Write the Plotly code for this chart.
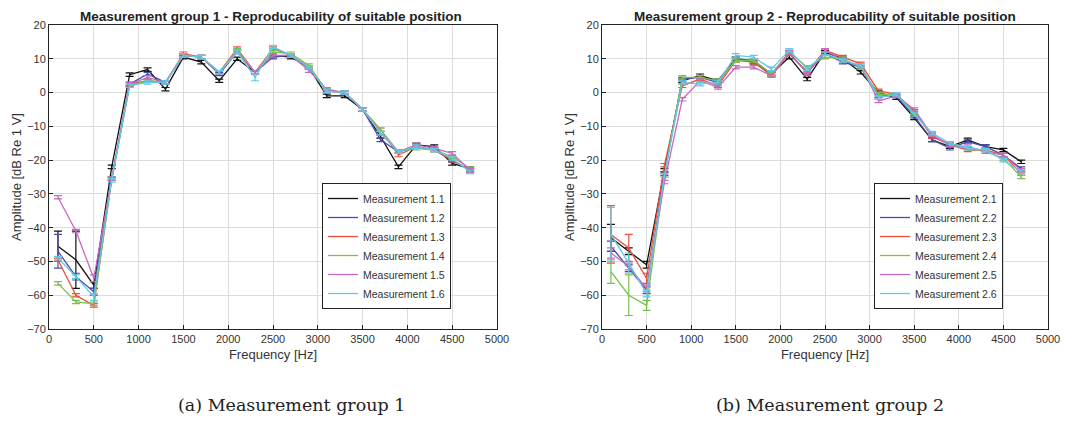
import plotly.graph_objects as go

freq = [100, 300, 500, 700, 900, 1100, 1300, 1500, 1700, 1900, 2100, 2300,
        2500, 2700, 2900, 3100, 3300, 3500, 3700, 3900, 4100, 4300, 4500, 4700]

names1 = ["Measurement 1.1", "Measurement 1.2", "Measurement 1.3",
          "Measurement 1.4", "Measurement 1.5", "Measurement 1.6"]
names2 = ["Measurement 2.1", "Measurement 2.2", "Measurement 2.3",
          "Measurement 2.4", "Measurement 2.5", "Measurement 2.6"]
colors = ["#111111", "#4a4aa8", "#e8503a", "#78c050", "#c868c0", "#60c8e8"]

# Group 1 values (dB)
g1_m1 = [-45.5, -49.5, -57.0, -22.0, 5.3, 6.8, 1.0, 10.5, 9.0, 3.5, 10.0, 6.0,
         11.0, 10.5, 7.5, -1.0, -1.0, -5.0, -13.0, -22.0, -15.5, -16.0, -21.0, -22.5]
g1_m2 = [-47.0, -54.5, -59.0, -25.5, 2.5, 5.5, 3.0, 11.0, 10.5, 5.5, 12.0, 6.0,
         10.5, 11.0, 7.5, 0.5, 0.0, -5.0, -14.0, -17.5, -16.0, -17.0, -20.0, -23.0]
g1_m3 = [-49.5, -60.0, -63.0, -25.5, 2.5, 3.5, 3.0, 11.5, 10.5, 6.0, 13.0, 6.0,
         13.0, 11.0, 7.5, 0.5, 0.0, -5.0, -11.0, -18.5, -16.0, -17.0, -20.0, -23.0]
g1_m4 = [-56.5, -62.0, -62.5, -25.5, 2.0, 3.5, 3.0, 11.0, 10.5, 6.0, 12.5, 6.0,
         12.0, 11.5, 8.0, 0.5, 0.0, -5.0, -11.0, -17.5, -16.5, -17.0, -19.0, -22.5]
g1_m5 = [-31.0, -41.0, -55.0, -25.5, 2.5, 4.5, 3.0, 11.0, 10.5, 6.0, 12.0, 6.0,
         11.0, 11.0, 6.5, 1.0, 0.0, -5.0, -12.0, -17.5, -15.5, -16.5, -18.0, -23.0]
g1_m6 = [-49.0, -54.5, -60.5, -26.0, 2.0, 3.0, 3.0, 11.0, 10.5, 6.0, 12.0, 4.5,
         13.5, 11.0, 7.5, 0.5, 0.0, -5.0, -12.0, -17.5, -16.0, -17.0, -19.5, -23.5]

g1_e1 = [4.5, 8.5, 1.0, 0.5, 0.5, 0.5, 0.5, 0.5, 0.5, 0.5, 0.5, 0.5,
         0.5, 0.5, 0.5, 0.5, 0.5, 0.5, 0.5, 0.5, 0.5, 0.5, 0.5, 0.5]
g1_e2 = [5.0, 1.0, 1.0, 0.5, 0.5, 0.5, 0.5, 0.5, 0.5, 0.5, 0.5, 0.5,
         0.5, 0.5, 0.5, 0.5, 0.5, 0.5, 0.5, 0.5, 0.5, 0.5, 0.5, 0.5]
g1_e3 = [0.5, 0.5, 0.5, 0.5, 0.5, 0.5, 0.5, 0.5, 0.5, 0.5, 0.5, 0.5,
         0.5, 0.5, 0.5, 0.5, 0.5, 0.5, 0.5, 0.5, 0.5, 0.5, 0.5, 0.5]
g1_e4 = [0.5, 0.5, 0.5, 0.5, 0.5, 0.5, 0.5, 0.5, 0.5, 0.5, 0.5, 0.5,
         0.5, 0.5, 0.5, 0.5, 0.5, 0.5, 0.5, 0.5, 0.5, 0.5, 0.5, 0.5]
g1_e5 = [0.5, 0.5, 1.0, 0.5, 0.5, 0.5, 0.5, 0.5, 0.5, 0.5, 0.5, 0.5,
         0.5, 0.5, 0.5, 0.5, 0.5, 0.5, 0.5, 0.5, 0.5, 0.5, 0.5, 0.5]
g1_e6 = [0.5, 0.5, 1.0, 0.5, 0.5, 0.5, 0.5, 0.5, 0.5, 0.5, 0.5, 1.0,
         0.5, 0.5, 0.5, 0.5, 0.5, 0.5, 0.5, 0.5, 0.5, 0.5, 0.5, 0.5]

# Group 2 values (dB)
g2_m1 = [-43.0, -47.0, -51.0, -23.0, 3.5, 5.0, 3.5, 10.0, 9.0, 5.5, 10.5, 4.0,
         12.0, 10.0, 6.0, 0.0, -1.5, -7.5, -14.0, -16.0, -14.0, -16.0, -17.0, -20.5]
g2_m2 = [-45.5, -52.0, -58.5, -24.0, 4.0, 4.5, 3.0, 10.0, 9.5, 5.5, 11.5, 6.0,
         11.5, 9.0, 7.5, -1.0, -1.0, -7.0, -14.0, -16.5, -14.5, -16.0, -18.5, -22.5]
g2_m3 = [-42.0, -46.0, -55.0, -21.5, 2.0, 4.0, 2.0, 9.5, 9.0, 5.0, 11.5, 6.0,
         12.5, 10.5, 8.5, 0.5, -0.5, -5.5, -13.0, -15.5, -17.0, -17.0, -18.5, -24.0]
g2_m4 = [-53.0, -60.0, -63.0, -24.5, 4.5, 4.5, 3.5, 9.5, 9.5, 5.5, 12.0, 7.5,
         10.5, 10.0, 7.5, -0.5, -0.5, -6.0, -12.5, -15.5, -16.5, -17.5, -19.5, -25.0]
g2_m5 = [-47.5, -51.5, -58.0, -26.5, -2.0, 3.5, 1.5, 7.5, 7.5, 5.0, 12.0, 5.5,
         12.5, 9.5, 8.0, -2.5, -1.0, -5.0, -12.5, -15.5, -16.0, -17.5, -18.5, -23.0]
g2_m6 = [-42.0, -50.5, -59.5, -24.5, 3.0, 2.5, 3.0, 11.0, 10.5, 7.0, 12.5, 7.0,
         11.5, 9.5, 8.0, -1.5, -0.5, -6.5, -12.0, -15.0, -16.5, -17.0, -20.0, -23.5]

g2_e1 = [4.0, 1.0, 1.0, 0.5, 0.5, 0.5, 0.5, 0.5, 0.5, 0.5, 0.5, 0.5,
         0.5, 0.5, 0.5, 0.5, 0.5, 0.5, 0.5, 0.5, 0.5, 0.5, 0.5, 0.5]
g2_e2 = [1.5, 1.0, 1.0, 0.5, 0.5, 0.5, 0.5, 0.5, 0.5, 0.5, 0.5, 0.5,
         0.5, 0.5, 0.5, 0.5, 0.5, 0.5, 0.5, 0.5, 0.5, 0.5, 0.5, 0.5]
g2_e3 = [8.5, 4.0, 1.5, 0.5, 0.5, 0.5, 0.5, 0.5, 0.5, 0.5, 0.5, 0.5,
         0.5, 0.5, 0.5, 0.5, 0.5, 0.5, 0.5, 0.5, 0.5, 0.5, 0.5, 0.5]
g2_e4 = [3.5, 6.0, 1.5, 0.5, 0.5, 0.5, 0.5, 0.5, 0.5, 0.5, 0.5, 0.5,
         0.5, 0.5, 0.5, 0.5, 0.5, 0.5, 0.5, 0.5, 0.5, 0.5, 0.5, 0.5]
g2_e5 = [1.5, 1.0, 1.0, 0.5, 0.5, 0.5, 0.5, 0.5, 0.5, 0.5, 0.5, 0.5,
         0.5, 0.5, 0.5, 0.5, 0.5, 0.5, 0.5, 0.5, 0.5, 0.5, 0.5, 0.5]
g2_e6 = [8.0, 3.0, 1.0, 0.5, 0.5, 0.5, 0.5, 0.5, 0.5, 0.5, 0.5, 0.5,
         0.5, 0.5, 0.5, 0.5, 0.5, 0.5, 0.5, 0.5, 0.5, 0.5, 0.5, 0.5]

group1 = [g1_m1, g1_m2, g1_m3, g1_m4, g1_m5, g1_m6]
group1_err = [g1_e1, g1_e2, g1_e3, g1_e4, g1_e5, g1_e6]
group2 = [g2_m1, g2_m2, g2_m3, g2_m4, g2_m5, g2_m6]
group2_err = [g2_e1, g2_e2, g2_e3, g2_e4, g2_e5, g2_e6]

titles = ["Measurement group 1 - Reproducability of suitable position",
          "Measurement group 2 - Reproducability of suitable position"]
captions = ["(a) Measurement group 1", "(b) Measurement group 2"]

W, H = 1091, 432
PAGE_OFF = 8  # default page body margin of the written html


def xp(px):
    return (px - PAGE_OFF) / W


def yp(py):
    return 1 - (py - PAGE_OFF) / H


fig = go.Figure()

for ys, es, names, xa, ya, lg in [(group1, group1_err, names1, "x", "y", "legend"),
                                   (group2, group2_err, names2, "x2", "y2", "legend2")]:
    for y, e, n, c in zip(ys, es, names, colors):
        fig.add_trace(go.Scatter(
            x=freq, y=y, name=n, mode="lines",
            line=dict(color=c, width=1.3),
            error_y=dict(type="data", array=e, visible=True, color=c,
                         thickness=1.2, width=4),
            xaxis=xa, yaxis=ya, legend=lg))

axis_common = dict(showline=True, linecolor="#222", linewidth=1, mirror=True,
                   showgrid=True, gridcolor="#dcdcdc", gridwidth=1,
                   ticks="inside", ticklen=4, tickcolor="#222",
                   tickfont=dict(family="Liberation Sans, Arial", size=11, color="#333"),
                   zeroline=False, automargin=False)

xcommon = dict(axis_common, range=[0, 5000], dtick=500, tick0=0)
ycommon = dict(axis_common, range=[-70, 20], dtick=10, tick0=0)

leg_common = dict(yanchor="middle", xanchor="left", bgcolor="white",
                  bordercolor="#222", borderwidth=1,
                  font=dict(family="Liberation Sans, Arial", size=10.5, color="#333"),
                  tracegroupgap=0, itemwidth=30)

xt = dict(text="Frequency [Hz]", font=dict(size=13, color="#333"), standoff=5)
yt = dict(text="Amplitude [dB Re 1 V]", font=dict(size=13, color="#333"), standoff=2)

fig.update_layout(
    width=W, height=H,
    margin=dict(l=0, r=0, t=0, b=0, autoexpand=False),
    paper_bgcolor="white", plot_bgcolor="white",
    font=dict(family="Liberation Sans, Arial", color="#222"),
    xaxis=dict(xcommon, domain=[xp(49), xp(497)], anchor="y", title=xt),
    yaxis=dict(ycommon, domain=[yp(329), yp(25)], anchor="x", title=yt),
    xaxis2=dict(xcommon, domain=[xp(602), xp(1048)], anchor="y2", title=xt),
    yaxis2=dict(ycommon, domain=[yp(329), yp(25)], anchor="x2", title=yt),
    legend=dict(leg_common, x=xp(322), y=yp(246)),
    legend2=dict(leg_common, x=xp(874), y=yp(246)),
    showlegend=True,
)

annotations = []
for t, cx in zip(titles, [271, 825]):
    annotations.append(dict(text="<b>" + t + "</b>", x=xp(cx), y=yp(8),
                            xref="paper", yref="paper", showarrow=False,
                            xanchor="center", yanchor="top", borderpad=0,
                            font=dict(size=13.5, color="#222")))
for t, cx in zip(captions, [291, 830]):
    annotations.append(dict(text=t, x=xp(cx), y=yp(405),
                            xref="paper", yref="paper", showarrow=False,
                            xanchor="center", yanchor="middle",
                            font=dict(family="DejaVu Serif, Liberation Serif, serif",
                                      size=17.5, color="#222")))
fig.update_layout(annotations=annotations)

fig.write_html("out.html")
